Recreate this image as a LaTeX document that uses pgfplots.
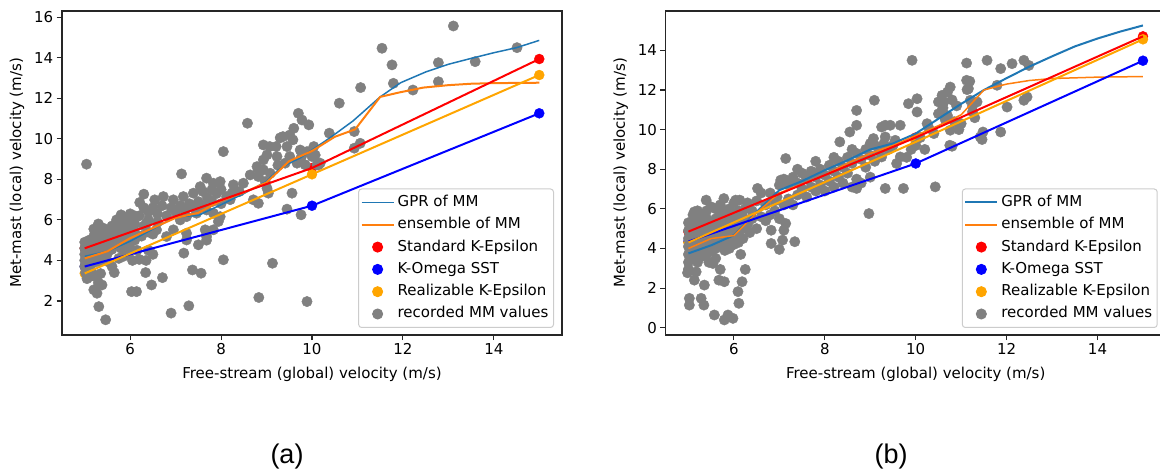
\documentclass[border=0pt]{standalone}
\usepackage{pgfplots}
\pgfplotsset{compat=1.18}
\usepackage{fontspec}
\setmainfont{DejaVu Sans}
\newfontfamily\capfont{Liberation Sans}
\definecolor{c0}{HTML}{1F77B4}
\definecolor{c1}{HTML}{FF7F0E}
\definecolor{morange}{HTML}{FFA500}
\definecolor{mgrey}{HTML}{808080}
\newcommand\fs{\fontsize{15}{18}\selectfont}
\pgfplotsset{
 grey pts/.style={mgrey, only marks, mark=*, mark size=5.2pt, forget plot},
 model pts/.style={#1, only marks, mark=*, mark size=5pt, forget plot},
 model line/.style={#1, line width=2pt, no marks, forget plot},
 panel/.style={
  scale only axis, width=500pt, height=324pt, anchor=south west,
  xmin=4.5, xmax=15.5, xtick={6,8,10,12,14},
  tick align=outside, major tick length=5.25pt,
  xtick pos=bottom, ytick pos=left,
  axis line style={black!85, line width=1.1pt},
  every tick/.style={black!85, line width=1.1pt},
  tick label style={font=\fs}, label style={font=\fs},
  /pgf/number format/assume math mode=true,
  xlabel={Free-stream (global) velocity (m/s)},
  ylabel={Met-mast (local) velocity (m/s)},
  xlabel style={at={(axis description cs:0.5,-0.1204)}, anchor=center},
  ylabel style={at={(axis description cs:-0.09,0.5)}, anchor=center},
  legend cell align=left,
  legend style={at={(axis description cs:1,0)}, anchor=south east, xshift=-8pt, yshift=7pt,
    draw=black!20, line width=1pt, fill=white,
    rounded corners=3pt, font=\fs, inner xsep=2pt, inner ysep=3pt, row sep=1.3pt,
    nodes={inner sep=3pt, text height=11.5pt, text depth=3.5pt},
    /tikz/every even column/.append style={column sep=4.7pt}},
  clip marker paths=true,
 },
}
\newcommand\legendset[2]{%
  \addlegendimage{legend image code/.code={\draw[c0,line width=#1] (0pt,0pt) -- (32pt,0pt);}}
  \addlegendentry{GPR of MM}
  \addlegendimage{legend image code/.code={\draw[c1,line width=#2] (0pt,0pt) -- (32pt,0pt);}}
  \addlegendentry{ensemble of MM}
  \addlegendimage{legend image code/.code={\fill[red] (16pt,0pt) circle (5pt);}}
  \addlegendentry{Standard K-Epsilon}
  \addlegendimage{legend image code/.code={\fill[blue] (16pt,0pt) circle (5pt);}}
  \addlegendentry{K-Omega SST}
  \addlegendimage{legend image code/.code={\fill[morange] (16pt,0pt) circle (5pt);}}
  \addlegendentry{Realizable K-Epsilon}
  \addlegendimage{legend image code/.code={\fill[mgrey] (16pt,0pt) circle (5pt);}}
  \addlegendentry{recorded MM values}
}
\begin{document}
\begin{tikzpicture}
% ---------------- (a) ----------------
\begin{axis}[panel, at={(62pt,138pt)}, ymin=0.32, ymax=16.31, ytick={2,4,...,16}]
\legendset{1.5pt}{2pt}
\addplot[model pts=red] coordinates {(5,4.6)(10,8.56)(15,13.94)};
\addplot[model pts=blue] coordinates {(5,3.7)(10,6.7)(15,11.26)};
\addplot[model pts=morange] coordinates {(5,3.36)(10,8.25)(15,13.15)};
\addplot[grey pts] table {
x y
5.04 8.75
5.46 1.07
5.31 1.72
5.27 2.38
5.38 2.79
5.20 2.55
5.11 3.20
6.03 2.46
6.14 2.46
6.47 2.79
6.71 3.15
6.90 1.40
7.29 1.76
6.34 3.40
7.37 3.53
7.56 3.37
8.05 4.03
7.18 4.36
7.50 4.77
7.68 5.00
8.83 2.17
9.13 3.86
9.89 1.97
9.76 6.25
9.45 6.53
9.56 7.32
7.13 8.27
8.05 9.37
8.58 10.77
9.70 11.26
9.60 10.52
9.93 10.69
9.78 10.93
11.54 14.47
11.76 13.65
11.79 12.74
11.07 12.53
10.60 11.76
10.38 10.28
10.93 10.36
10.93 9.54
11.06 9.78
13.11 15.57
12.78 13.76
13.59 13.81
14.51 14.50
12.78 12.82
12.22 12.41
10.07 9.20
10.14 8.71
9.89 9.37
10.04 9.62
8.64 8.22
8.79 8.63
8.82 8.47
8.93 8.96
9.01 9.21
8.93 9.70
9.07 9.62
9.21 9.62
9.36 10.11
9.51 10.19
9.58 9.95
9.45 9.62
9.23 9.13
9.41 8.80
9.51 9.13
9.74 9.45
9.77 9.13
9.67 8.80
9.85 8.72
10.00 9.13
10.11 8.72
10.18 8.80
8.93 8.47
9.08 8.30
8.82 8.14
8.97 7.89
9.01 7.56
9.04 7.32
8.71 6.99
8.82 6.82
9.25 8.70
9.30 10.05
6.30 7.27
6.21 6.86
6.54 6.99
6.73 7.15
6.95 6.99
7.17 7.15
7.39 7.32
7.54 7.64
7.68 8.06
7.83 7.81
7.98 7.89
8.27 7.73
8.49 7.81
8.12 7.15
8.24 7.32
7.60 7.40
7.80 7.50
7.90 7.30
7.70 7.10
7.50 6.90
7.30 6.80
7.10 6.70
6.90 6.60
6.70 6.70
6.50 6.60
6.40 6.40
6.60 6.30
6.80 6.20
7.00 6.40
7.20 6.50
7.40 6.60
7.60 6.70
7.80 6.90
8.00 6.80
8.20 7.00
8.40 7.40
8.00 7.50
7.98 6.16
7.46 6.33
7.68 6.49
7.83 6.33
7.94 5.92
7.83 5.51
7.65 5.51
7.68 5.18
7.24 5.34
7.24 5.01
7.24 6.16
7.10 6.00
6.95 5.51
6.80 5.18
6.58 5.51
6.60 5.90
6.40 6.00
6.30 5.70
6.50 5.30
6.20 6.20
6.30 6.60
5.00 4.90
5.00 4.60
5.00 4.30
5.00 4.00
5.00 3.70
5.02 3.40
5.05 3.10
5.10 5.00
5.10 4.70
5.10 4.40
5.10 4.10
5.10 3.80
5.15 3.45
5.20 5.55
5.20 5.20
5.20 4.85
5.20 4.50
5.20 4.20
5.20 3.90
5.25 3.20
5.30 5.80
5.30 5.40
5.30 5.05
5.30 4.65
5.30 4.30
5.30 3.95
5.30 2.90
5.35 3.35
5.40 5.60
5.40 5.20
5.40 4.85
5.40 4.45
5.40 4.05
5.50 5.50
5.50 5.15
5.50 4.75
5.50 4.35
5.50 3.95
5.60 5.70
5.60 5.30
5.60 4.95
5.60 4.55
5.60 3.70
5.65 3.40
5.70 6.00
5.70 5.60
5.70 5.20
5.70 4.80
5.75 4.10
5.80 6.25
5.80 5.85
5.80 5.45
5.80 5.05
5.80 4.60
5.85 4.20
5.90 6.10
5.90 5.70
5.90 5.30
5.90 4.90
5.95 4.30
6.00 6.30
6.00 5.90
6.00 5.50
6.00 5.10
6.00 4.60
6.05 4.00
6.10 6.20
6.10 5.80
6.10 5.40
6.10 5.00
6.15 4.50
6.20 4.05
6.25 5.20
6.35 5.80
6.40 5.40
6.40 4.50
6.35 4.00
6.50 4.30
};
\addplot[c0, line width=1.5pt, no marks, forget plot] coordinates {
(5,4.2)(5.5,4.45)(6,4.95)(6.5,5.55)(7,6.15)(7.5,6.22)(8,6.75)(8.5,7.3)(9,7.9)(9.25,8.45)(9.5,8.8)(9.75,9.07)(10,9.45)(10.4,10.06)(10.9,10.88)(11.5,12.07)(11.95,12.77)(12.5,13.3)(13,13.68)(13.5,13.97)(14,14.25)(14.5,14.5)(15,14.86)};
\addplot[c1, line width=2pt, no marks, forget plot] coordinates {
(5,4.1)(5.5,4.45)(6,5.1)(6.5,5.6)(7,6.1)(7.5,6.35)(8,6.95)(8.5,7.35)(9,7.85)(9.5,8.9)(10,9.4)(10.5,10.1)(10.95,10.47)(11.5,12.07)(11.9,12.28)(12.45,12.53)(13,12.65)(13.5,12.72)(14,12.75)(15,12.77)};
\addplot[model line=red] coordinates {(5,4.6)(10,8.56)(15,13.94)};
\addplot[model line=blue] coordinates {(5,3.7)(10,6.7)(15,11.26)};
\addplot[model line=morange] coordinates {(5,3.36)(10,8.25)(15,13.15)};
\end{axis}
% ---------------- (b) ----------------
\begin{axis}[panel, at={(665.7pt,138pt)}, ymin=-0.37, ymax=15.99, ytick={0,2,...,14}]
\legendset{2pt}{1.5pt}
\addplot[model pts=red] coordinates {(5,4.85)(10,9.6)(15,14.71)};
\addplot[model pts=blue] coordinates {(5,4.35)(10,8.29)(15,13.48)};
\addplot[model pts=morange] coordinates {(5,4.3)(10,9.38)(15,14.56)};
\addplot[grey pts] table {
x y
5.02 1.14
5.02 1.48
5.28 1.48
5.34 1.14
5.57 0.64
5.79 0.39
5.87 0.64
5.98 0.47
6.11 1.23
6.09 1.82
6.18 2.32
6.25 2.94
5.79 2.32
5.70 2.94
5.54 3.24
5.35 2.15
5.13 2.40
4.98 2.77
5.17 2.82
5.67 2.40
7.34 4.34
7.00 3.95
6.82 4.25
7.10 4.92
7.14 5.26
6.82 4.92
7.07 4.42
8.97 5.76
7.14 8.54
9.09 11.48
8.70 10.97
8.70 10.22
8.55 9.88
9.92 13.50
10.03 11.56
10.03 10.89
10.43 7.11
9.73 7.03
9.33 7.03
11.12 13.36
11.57 13.50
11.87 13.08
12.12 13.33
12.38 13.50
12.49 13.24
11.12 12.49
11.16 12.07
11.20 11.48
10.76 12.15
10.58 11.73
10.50 11.40
10.62 11.40
10.58 10.97
11.79 12.24
12.01 11.14
12.38 11.48
12.45 11.65
10.75 9.21
10.76 9.97
10.25 10.30
10.28 10.13
11.42 9.63
11.48 9.88
11.87 9.88
9.66 10.22
9.33 10.22
9.25 10.13
9.44 10.22
9.07 9.55
9.33 9.63
9.55 9.46
9.58 8.29
9.66 8.62
9.25 8.62
9.84 11.31
8.33 9.38
8.70 7.03
10.80 9.16
11.19 12.44
11.13 12.02
10.70 11.90
10.80 11.50
10.60 11.10
10.90 11.20
10.70 10.70
10.85 10.40
10.50 10.80
10.65 10.50
11.25 11.20
11.35 11.40
11.25 10.90
11.30 10.60
11.46 9.50
11.00 10.30
10.95 10.00
10.40 9.80
10.10 9.60
10.00 9.20
10.20 9.00
9.90 9.00
9.80 8.60
7.00 7.20
7.10 7.50
7.20 7.20
7.30 7.60
7.40 7.30
7.50 7.80
7.50 7.00
7.60 7.50
7.70 7.90
7.70 7.10
7.80 7.60
7.90 8.00
7.90 7.20
8.00 7.70
8.10 8.20
8.10 7.40
8.20 7.90
8.30 8.40
8.30 7.60
8.40 8.10
8.50 8.60
8.50 7.80
8.60 8.30
8.70 8.80
8.70 7.50
8.80 8.50
8.90 9.00
8.90 8.10
9.00 8.70
9.10 9.20
9.10 8.40
9.20 8.90
9.30 9.30
9.40 9.00
9.50 9.20
9.00 9.30
8.60 9.00
8.20 8.60
7.80 8.40
7.40 8.00
7.20 6.50
7.40 6.70
7.60 6.60
7.80 6.90
8.00 6.90
8.20 7.10
8.40 7.30
8.60 7.10
8.80 7.30
9.00 7.60
7.10 6.20
6.95 6.60
7.30 6.20
6.30 6.30
6.40 5.90
6.50 6.40
6.52 7.03
6.60 5.60
6.70 6.20
6.80 6.80
6.80 5.70
6.90 6.40
6.60 6.80
6.40 5.50
6.30 5.20
6.50 5.00
6.70 5.40
6.90 5.90
7.03 7.45
7.00 5.50
6.35 4.80
6.20 5.60
6.25 6.00
5.00 5.30
5.00 4.90
5.00 4.50
5.00 4.10
5.00 3.70
5.00 3.30
5.00 2.95
5.10 5.70
5.10 5.20
5.10 4.70
5.10 4.30
5.10 3.90
5.10 3.50
5.13 5.85
5.20 5.90
5.20 5.40
5.20 5.00
5.20 4.60
5.20 4.20
5.20 3.80
5.20 3.30
5.30 5.70
5.30 5.20
5.30 4.80
5.30 4.40
5.30 4.00
5.30 3.60
5.39 6.44
5.40 5.90
5.40 5.50
5.40 5.00
5.40 4.60
5.40 4.10
5.40 3.70
5.45 3.30
5.50 6.10
5.50 5.30
5.50 4.80
5.50 4.30
5.50 3.90
5.60 6.00
5.60 5.50
5.60 5.00
5.60 4.50
5.60 4.00
5.60 3.50
5.70 6.20
5.70 5.70
5.70 5.20
5.70 4.70
5.70 4.20
5.78 6.52
5.80 5.90
5.80 5.40
5.80 4.90
5.80 4.40
5.80 3.90
5.90 6.00
5.90 5.50
5.90 5.00
5.90 4.50
5.90 4.00
6.00 6.30
6.00 5.70
6.00 5.20
6.00 4.70
6.00 4.20
6.04 6.44
6.10 5.90
6.10 5.40
6.10 4.80
6.10 4.30
6.13 6.44
6.20 5.00
6.20 4.50
6.15 3.70
};
\addplot[c0, line width=2pt, no marks, forget plot] coordinates {
(5,3.75)(5.5,4.16)(6,4.67)(6.5,5.85)(7,6.94)(7.5,7.4)(8,7.95)(8.5,8.45)(9,9.0)(9.5,9.3)(10,9.8)(10.5,10.55)(11,11.3)(11.5,12.0)(12,12.6)(12.5,13.18)(13,13.7)(13.5,14.2)(14,14.6)(14.5,14.95)(15,15.26)};
\addplot[c1, line width=1.5pt, no marks, forget plot] coordinates {
(5,4.0)(5.5,4.5)(6,4.65)(6.5,5.8)(7,6.8)(7.5,7.25)(8,7.7)(8.5,8.3)(9,8.8)(9.5,9.2)(10,9.7)(10.5,10.2)(11,10.75)(11.5,12.0)(12,12.3)(12.5,12.48)(13,12.58)(14,12.65)(15,12.68)};
\addplot[model line=red] coordinates {(5,4.85)(10,9.6)(15,14.71)};
\addplot[model line=blue] coordinates {(5,4.35)(10,8.29)(15,13.48)};
\addplot[model line=morange] coordinates {(5,4.3)(10,9.38)(15,14.56)};
\end{axis}
\node[font=\capfont\fontsize{27}{30}\selectfont] at (287pt,16pt) {(a)};
\node[font=\capfont\fontsize{27}{30}\selectfont] at (891pt,16pt) {(b)};
\pgfresetboundingbox
\path[use as bounding box] (0,0) rectangle (1160pt,473pt);
\end{tikzpicture}
\end{document}
